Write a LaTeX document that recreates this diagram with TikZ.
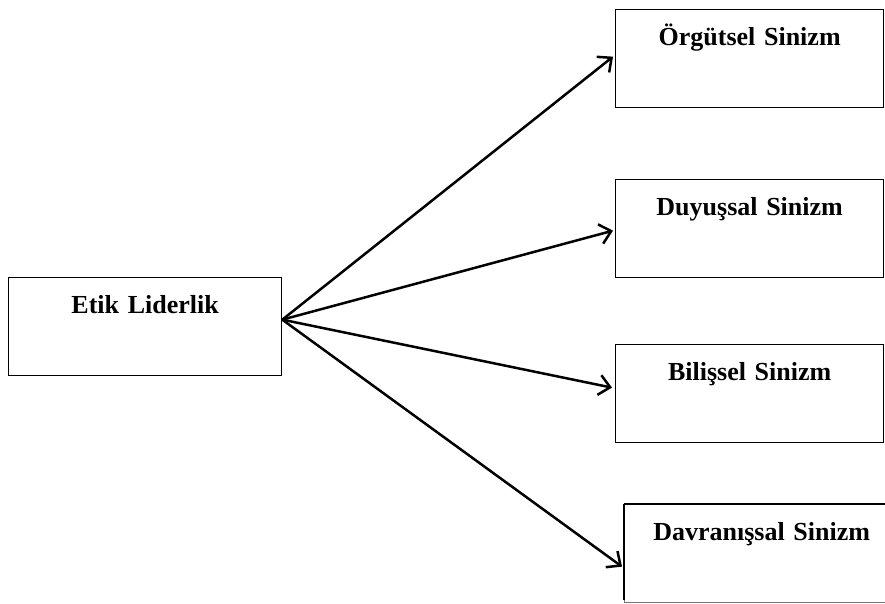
\documentclass[tikz,border=0pt]{standalone}
\usepackage{fontspec}
\setmainfont{Liberation Serif}
\usetikzlibrary{arrows.meta}
\begin{document}
\begin{tikzpicture}[x=1pt,y=-1pt,
  box/.style={draw=black,line width=1.3pt,rectangle,anchor=north west,
    font=\fontsize{26}{30}\selectfont\bfseries,align=center,
    inner xsep=0pt,inner ysep=18pt,text height=18pt,text depth=44pt},
  conn/.style={line width=2.5pt,-{Straight Barb[length=11pt,width=20pt,line width=2.5pt]}}]
\useasboundingbox (0,0) rectangle (885,603);
\begin{scope}
\clip (0,0) rectangle (885,603);
\node[box,minimum width=273pt,text width=273pt] (etik) at (8,277) {Etik Liderlik};
\node[box,minimum width=268pt,text width=268pt] (org) at (615,9) {Örgütsel Sinizm};
\node[box,minimum width=268pt,text width=268pt] (duy) at (615,179) {Duyuşsal Sinizm};
\node[box,minimum width=268pt,text width=268pt] (bil) at (615,344) {Bilişsel Sinizm};
\node[box,minimum width=274pt,text width=274pt,draw=black!55,text depth=44pt] (dav) at (624,504) {Davranışsal Sinizm};
\draw[line width=1.3pt] (dav.north west) -- (dav.north east);
\draw[line width=1.3pt] (dav.north west) -- ([yshift=3pt]dav.south west);
\end{scope}
\coordinate (src) at ([yshift=7pt]etik.east);
\draw[conn] (src) -- ([xshift=-2pt,yshift=2pt]org.west);
\draw[conn] (src) -- ([xshift=-2pt,yshift=-2pt]duy.west);
\draw[conn] (src) -- ([xshift=-3pt,yshift=6pt]bil.west);
\draw[conn] (src) -- ([xshift=-2pt,yshift=-13pt]dav.west);
\end{tikzpicture}
\end{document}
